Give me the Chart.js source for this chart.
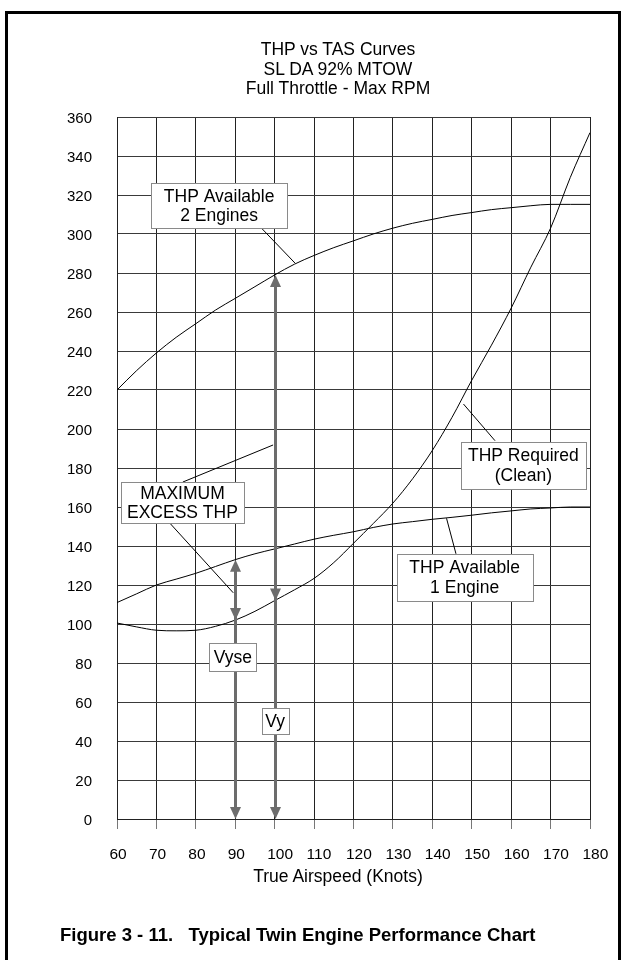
<!DOCTYPE html>
<html>
<head>
<meta charset="utf-8">
<title>THP vs TAS Curves</title>
<script src="https://cdn.jsdelivr.net/npm/chart.js@4.4.1/dist/chart.umd.min.js"></script>
<style>
  html, body { margin: 0; padding: 0; background: #fff; }
  #page { position: relative; width: 624px; height: 960px; overflow: hidden; background: #fff;
          font-family: "Liberation Sans", Arial, Helvetica, sans-serif; color: #000; }
  #frame { position: absolute; left: 5px; top: 11px; width: 610px; height: 990px; border: 3px solid #000; }
  #wrap { position: absolute; left: 0; top: 0; width: 624px; height: 960px; }
  .txt { position: absolute; white-space: nowrap; transform: translate(-50%, -50%); font-size: 17.5px; line-height: 19.5px; text-align: center; }
  #caption { position: absolute; left: 60px; top: 924px; white-space: nowrap; font-size: 18.5px; font-weight: bold; }
</style>
</head>
<body>
<div id="page">
  <div id="frame"></div>
  <div id="wrap"><canvas id="chart"></canvas></div>
  <div class="txt" style="left:338px; top:69px;">THP vs TAS Curves<br>SL DA 92% MTOW<br>Full Throttle - Max RPM</div>
  <div class="txt" style="left:338px; top:877px;">True Airspeed (Knots)</div>
  <div id="caption">Figure 3 - 11.&nbsp;&nbsp; Typical Twin Engine Performance Chart</div>
</div>
<script>
// True airspeed, knots
const airspeed = [60, 65, 70, 75, 80, 85, 90, 95, 100, 105, 110, 115, 120,
                  125, 130, 135, 140, 145, 150, 155, 160, 165, 170, 175, 180];
// Thrust horsepower available, both engines
const thpAvailableTwo = [220, 230, 239, 247, 254, 261, 267, 273, 279, 284.5, 289, 293, 296.5,
                         300, 303, 305.5, 307.5, 309.5, 311, 312.5, 313.5, 314.5, 315.2, 315.2, 315.2];
// Thrust horsepower available, one engine
const thpAvailableOne = [111, 115.5, 120, 123, 126, 129.5, 133, 136, 138.5, 141, 143.5, 145.5, 147.3,
                         149.5, 151.3, 152.5, 153.7, 154.7, 155.8, 157, 158, 159, 159.5, 160, 160];
// Thrust horsepower required, clean configuration
const thpRequired = [100.5, 98.5, 96.8, 96.5, 96.8, 98.8, 102, 106.5, 112, 117.5, 123.4, 131.5, 141.4,
                     151.5, 162, 174.5, 189, 206, 225, 243, 262, 283, 303, 329, 352];

// Axis ticks
const speedTicks = [60, 70, 80, 90, 100, 110, 120, 130, 140, 150, 160, 170, 180];
const thpTicks = [0, 20, 40, 60, 80, 100, 120, 140, 160, 180, 200, 220, 240, 260, 280, 300, 320, 340, 360];

// Vyse and Vy reference speeds
const vyse = 90;
const vy = 100;

const FONT = '"Liberation Sans", Arial, Helvetica, sans-serif';
const ARROW = '#6c6c6c';

const valueAt = (series, speed) => series[airspeed.indexOf(speed)];
const points = series => airspeed.map((s, i) => ({ x: s, y: series[i] }));

// Vertical speed markers: from the available-THP curve down to zero,
// with an arrowhead on the THP required curve
const speedMarkers = [
  { speed: vyse, top: valueAt(thpAvailableOne, vyse), mid: valueAt(thpRequired, vyse) },
  { speed: vy,   top: valueAt(thpAvailableTwo, vy),  mid: valueAt(thpRequired, vy) }
];

// Thin leader lines joining the callouts to the curves (knots, THP)
const leaders = [
  [[76.7, 172.8], [99.6, 191.8]],
  [[72.2, 154.4], [89.5, 116]],
  [[96.7, 302.9], [105.2, 285.0]],
  [[155.9, 194.0], [147.9, 212.8]],
  [[143.6, 154.2], [146.0, 136.0]]
];

// Callout boxes: centre in knots / THP, box size in px
const callouts = [
  { at: [76.6, 162.3], w: 123, h: 41, lines: ['MAXIMUM', 'EXCESS THP'] },
  { at: [85.9, 314.5], w: 136, h: 45, lines: ['THP Available', '2 Engines'] },
  { at: [163.1, 181.5], w: 125, h: 47, lines: ['THP Required', '(Clean)'] },
  { at: [148.2, 123.9], w: 136, h: 47, lines: ['THP Available', '1 Engine'] },
  { at: [89.4, 83.2], w: 47, h: 28, lines: ['Vyse'] },
  { at: [100.1, 50.3], w: 27, h: 26, lines: ['Vy'] }
];

const annotate = {
  id: 'annotate',
  afterDatasetsDraw(chart) {
    const { ctx, scales: { x, y } } = chart;
    const px = v => x.getPixelForValue(v);
    const py = v => y.getPixelForValue(v);

    const head = (X, tipY, dir) => {
      // dir -1: pointing up, +1: pointing down
      ctx.beginPath();
      ctx.moveTo(X, tipY);
      ctx.lineTo(X - 5.5, tipY - dir * 12);
      ctx.lineTo(X + 5.5, tipY - dir * 12);
      ctx.closePath();
      ctx.fill();
    };

    ctx.save();
    // speed markers
    ctx.strokeStyle = ARROW;
    ctx.fillStyle = ARROW;
    ctx.lineWidth = 3;
    speedMarkers.forEach(m => {
      const X = Math.round(px(m.speed)) + 0.5;
      ctx.beginPath();
      ctx.moveTo(X, py(m.top) + 8);
      ctx.lineTo(X, py(0) - 8);
      ctx.stroke();
      head(X, py(m.top), -1);
      head(X, py(m.mid), 1);
      head(X, py(0), 1);
    });

    // leader lines
    ctx.strokeStyle = '#000';
    ctx.lineWidth = 1;
    leaders.forEach(([a, b]) => {
      ctx.beginPath();
      ctx.moveTo(px(a[0]), py(a[1]));
      ctx.lineTo(px(b[0]), py(b[1]));
      ctx.stroke();
    });

    // callout boxes
    ctx.font = '17.5px ' + FONT;
    ctx.textAlign = 'center';
    ctx.textBaseline = 'middle';
    callouts.forEach(c => {
      const cx = px(c.at[0]), cy = py(c.at[1]);
      const left = Math.round(cx - c.w / 2) + 0.5, top = Math.round(cy - c.h / 2) + 0.5;
      ctx.fillStyle = '#fff';
      ctx.fillRect(left, top, c.w, c.h);
      ctx.strokeStyle = '#8a8a8a';
      ctx.lineWidth = 1;
      ctx.strokeRect(left, top, c.w, c.h);
      ctx.fillStyle = '#000';
      const step = 19.5;
      c.lines.forEach((t, i) => {
        ctx.fillText(t, cx, cy + (i - (c.lines.length - 1) / 2) * step + 1);
      });
    });
    ctx.restore();
  }
};

const curve = (label, series) => ({
  label,
  data: points(series),
  borderColor: '#000',
  borderWidth: 1,
  pointRadius: 0,
  fill: false,
  cubicInterpolationMode: 'monotone'
});

new Chart(document.getElementById('chart'), {
  type: 'line',
  data: {
    datasets: [
      curve('THP Available 2 Engines', thpAvailableTwo),
      curve('THP Available 1 Engine', thpAvailableOne),
      curve('THP Required (Clean)', thpRequired)
    ]
  },
  options: {
    responsive: true,
    maintainAspectRatio: false,
    animation: false,
    devicePixelRatio: 1,
    layout: { padding: { top: 117, right: 34, bottom: 0, left: 0 } },
    plugins: { legend: { display: false }, tooltip: { enabled: false }, title: { display: false } },
    scales: {
      x: {
        type: 'linear',
        min: speedTicks[0],
        max: speedTicks[speedTicks.length - 1],
        afterBuildTicks: s => { s.ticks = speedTicks.map(v => ({ value: v })); },
        ticks: { align: 'start', labelOffset: -7.5, padding: 16, color: '#000',
                 font: { family: FONT, size: 15.5 } },
        grid: { color: '#222', lineWidth: 1, tickLength: 10, tickColor: '#777' },
        border: { color: '#222', width: 1 },
        afterFit: s => { s.height = 141; s.paddingLeft = 0; s.paddingRight = 0; }
      },
      y: {
        min: thpTicks[0],
        max: thpTicks[thpTicks.length - 1],
        afterBuildTicks: s => { s.ticks = thpTicks.map(v => ({ value: v })); },
        ticks: { padding: 25, labelOffset: 2, color: '#000', font: { family: FONT, size: 15 } },
        grid: { color: '#3a3a3a', lineWidth: 1, drawTicks: false },
        border: { color: '#222', width: 1 },
        afterFit: s => { s.width = 117; s.paddingTop = 0; s.paddingBottom = 0; }
      }
    }
  },
  plugins: [annotate]
});
</script>
</body>
</html>
